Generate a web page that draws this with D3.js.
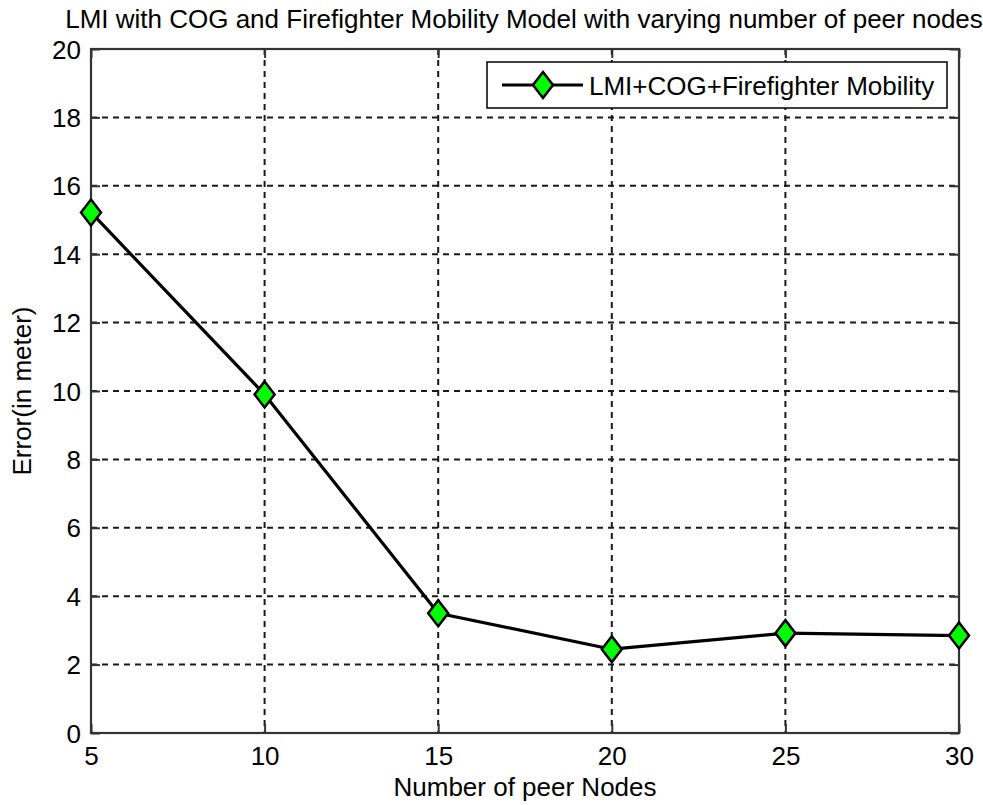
<!DOCTYPE html>
<html>
<head>
<meta charset="utf-8">
<script src="https://cdn.jsdelivr.net/npm/d3@7"></script>
<style>
  html, body { margin: 0; padding: 0; background: #fff; }
  svg { display: block; }
  text { font-family: Arial, "Liberation Sans", Helvetica, sans-serif; fill: #000; }
</style>
</head>
<body>
<svg id="chart" width="983" height="805"></svg>
<script>
// Localization error against the number of peer nodes
const peerNodes = [5, 10, 15, 20, 25, 30];
const errorMeters = [15.22, 9.9, 3.5, 2.45, 2.92, 2.85];
const xTicks = [5, 10, 15, 20, 25, 30];
const yTicks = [0, 2, 4, 6, 8, 10, 12, 14, 16, 18, 20];
const seriesName = "LMI+COG+Firefighter Mobility";
const titleText = "LMI with COG and Firefighter Mobility Model with varying number of peer nodes";
const xLabel = "Number of peer Nodes";
const yLabel = "Error(in meter)";

const svg = d3.select("#chart");
const plot = { left: 91, right: 959, top: 49, bottom: 733 };
const fontSize = 26;

const x = d3.scaleLinear().domain([5, 30]).range([plot.left, plot.right]);
const y = d3.scaleLinear().domain([0, 20]).range([plot.bottom, plot.top]);

// dashed grid
const grid = svg.append("g").attr("stroke", "#1a1a1a").attr("stroke-width", 2)
  .attr("stroke-dasharray", "6,5");
grid.selectAll("line.gx").data(xTicks.slice(1, -1)).join("line")
  .attr("x1", d => x(d)).attr("x2", d => x(d))
  .attr("y1", plot.top).attr("y2", plot.bottom);
grid.selectAll("line.gy").data(yTicks.slice(1, -1)).join("line")
  .attr("x1", plot.left).attr("x2", plot.right)
  .attr("y1", d => y(d)).attr("y2", d => y(d));

// axes with inward ticks, mirrored on top and right
const tickLen = 9;
const axisStyle = g => {
  g.select(".domain").remove();
  g.selectAll(".tick line").attr("stroke", "#333").attr("stroke-width", 2);
  g.selectAll(".tick text").style("font-size", fontSize + "px")
    .style("font-family", "Arial, 'Liberation Sans', sans-serif").attr("fill", "#000");
};
svg.append("g").attr("transform", `translate(0,${plot.bottom})`)
  .call(d3.axisBottom(x).tickValues(xTicks).tickSize(-tickLen).tickFormat(d3.format("d")))
  .call(axisStyle)
  .selectAll(".tick text").attr("y", 32).attr("dy", 0);
svg.append("g").attr("transform", `translate(${plot.left},0)`)
  .call(d3.axisLeft(y).tickValues(yTicks).tickSize(-tickLen).tickFormat(d3.format("d")))
  .call(axisStyle)
  .selectAll(".tick text").attr("x", -10).attr("dy", "0.35em");
svg.append("g").attr("transform", `translate(0,${plot.top})`)
  .call(d3.axisTop(x).tickValues(xTicks).tickSize(-tickLen).tickFormat(""))
  .call(axisStyle);
svg.append("g").attr("transform", `translate(${plot.right},0)`)
  .call(d3.axisRight(y).tickValues(yTicks).tickSize(-tickLen).tickFormat(""))
  .call(axisStyle);

// axes box
svg.append("rect")
  .attr("x", plot.left).attr("y", plot.top)
  .attr("width", plot.right - plot.left).attr("height", plot.bottom - plot.top)
  .attr("fill", "none").attr("stroke", "#333").attr("stroke-width", 2.2);

// diamond marker path centred on origin
const diamond = (hw, hh) => `M0,${-hh}L${hw},0L0,${hh}L${-hw},0Z`;

// series line
const pts = peerNodes.map((d, i) => [d, errorMeters[i]]);
svg.append("path").datum(pts)
  .attr("fill", "none").attr("stroke", "#000").attr("stroke-width", 3.2)
  .attr("stroke-linejoin", "round")
  .attr("d", d3.line().x(d => x(d[0])).y(d => y(d[1])));

svg.append("g").selectAll("path").data(pts).join("path")
  .attr("transform", d => `translate(${x(d[0])},${y(d[1])})`)
  .attr("d", diamond(10, 13))
  .attr("fill", "#00ff00").attr("stroke", "#000").attr("stroke-width", 2.5)
  .attr("stroke-linejoin", "miter");

// legend
const leg = svg.append("g");
leg.append("rect").attr("x", 487).attr("y", 62).attr("width", 460).attr("height", 46)
  .attr("fill", "#fff").attr("stroke", "#000").attr("stroke-width", 1.5);
leg.append("line").attr("x1", 502).attr("x2", 583).attr("y1", 85).attr("y2", 85)
  .attr("stroke", "#000").attr("stroke-width", 3.2);
leg.append("path").attr("transform", "translate(543,85)").attr("d", diamond(10, 13))
  .attr("fill", "#00ff00").attr("stroke", "#000").attr("stroke-width", 2.5);
leg.append("text").attr("x", 589).attr("y", 95).style("font-size", fontSize + "px").text(seriesName);

// title and axis labels
svg.append("text").attr("x", (plot.left + plot.right) / 2 - 1).attr("y", 28)
  .attr("text-anchor", "middle").style("font-size", fontSize + "px").text(titleText);
svg.append("text").attr("x", (plot.left + plot.right) / 2).attr("y", 796)
  .attr("text-anchor", "middle").style("font-size", fontSize + "px").text(xLabel);
svg.append("text").attr("transform", `translate(31,${(plot.top + plot.bottom) / 2}) rotate(-90)`)
  .attr("text-anchor", "middle").style("font-size", fontSize + "px").text(yLabel);
</script>
</body>
</html>
